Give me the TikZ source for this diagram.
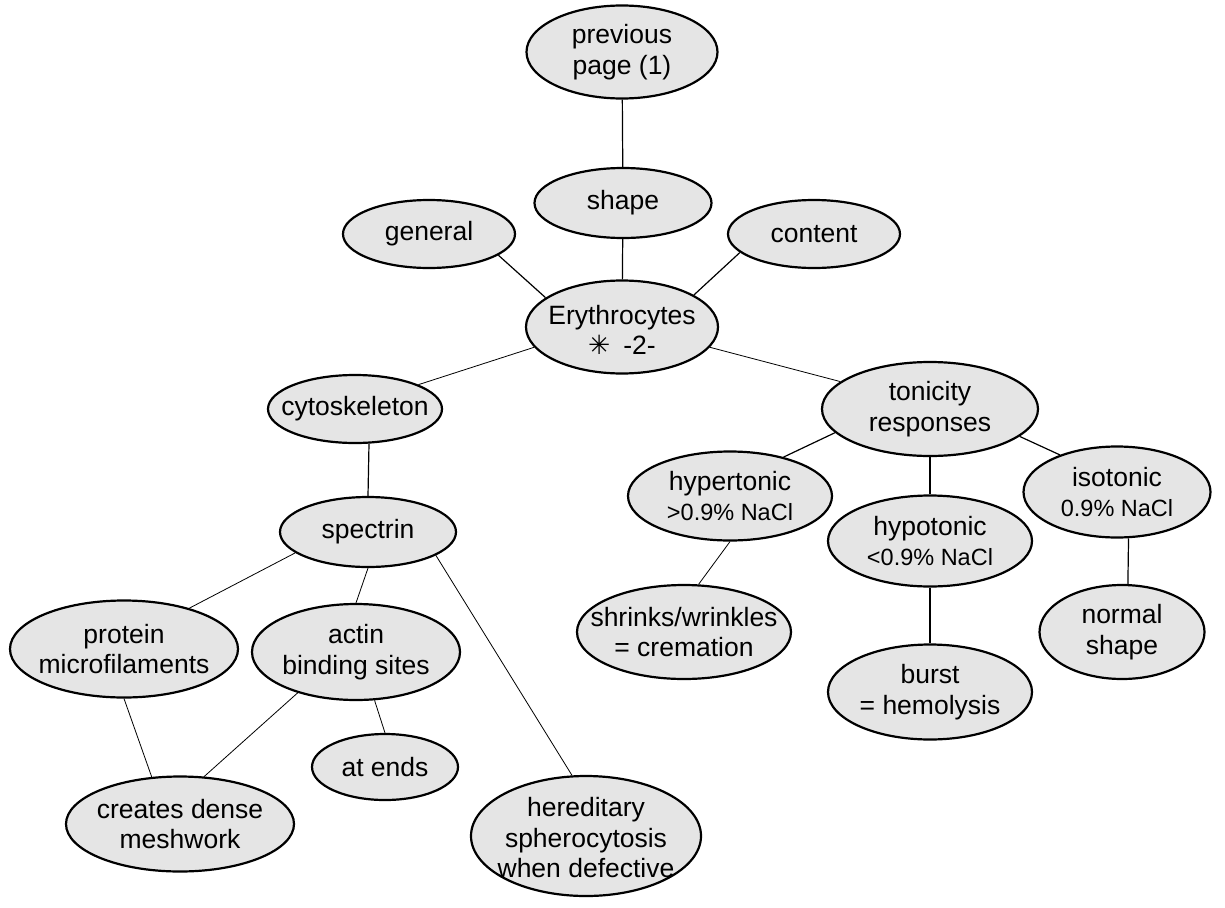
\documentclass[tikz,border=0pt]{standalone}
\usepackage{fontspec}
\usetikzlibrary{shapes.geometric}
\setmainfont{Liberation Sans}
\newfontfamily\symfont{DejaVu Sans}
\begin{document}
\begin{tikzpicture}[x=1pt,y=-1pt,
  ell/.style={ellipse, draw=black, line width=2.2pt, fill=black!10, inner sep=0pt},
  txt/.style={align=center, inner sep=0pt, font=\fontsize{26.5}{30.5}\selectfont},
  e1/.style={line width=1.2pt},
  e2/.style={line width=0.8pt}]
\useasboundingbox (0,0) rectangle (1225,907);
\newcommand{\sm}{\fontsize{23.5}{29}\selectfont}
% ellipses
\node[ell, minimum width=191pt, minimum height=93pt] (prev) at (622,52) {};
\node[ell, minimum width=177pt, minimum height=70pt] (shape) at (623,203) {};
\node[ell, minimum width=172pt, minimum height=68pt] (general) at (429,234) {};
\node[ell, minimum width=172pt, minimum height=68pt] (content) at (814,234) {};
\node[ell, minimum width=192pt, minimum height=93pt] (ery) at (622,327) {};
\node[ell, minimum width=174pt, minimum height=68pt] (cyto) at (355,409) {};
\node[ell, minimum width=216pt, minimum height=94pt] (tonicity) at (930,409) {};
\node[ell, minimum width=204pt, minimum height=89pt] (hypertonic) at (730,496) {};
\node[ell, minimum width=187pt, minimum height=91pt] (isotonic) at (1117,492) {};
\node[ell, minimum width=204pt, minimum height=91pt] (hypotonic) at (930,541) {};
\node[ell, minimum width=176pt, minimum height=70pt] (spectrin) at (368,532) {};
\node[ell, minimum width=228pt, minimum height=97pt] (protein) at (124,649) {};
\node[ell, minimum width=208pt, minimum height=96pt] (actin) at (356,652) {};
\node[ell, minimum width=214pt, minimum height=94pt] (shrinks) at (684,632) {};
\node[ell, minimum width=165pt, minimum height=94pt] (normal) at (1122,632) {};
\node[ell, minimum width=204pt, minimum height=95pt] (burst) at (930,692) {};
\node[ell, minimum width=146pt, minimum height=66pt] (atends) at (385,767) {};
\node[ell, minimum width=228pt, minimum height=95pt] (creates) at (180,824) {};
\node[ell, minimum width=230pt, minimum height=120pt] (hereditary) at (586,836) {};
% texts
\node[txt] (t-prev) at (prev) {previous\\page (1)};
\node[txt] (t-shape) at (shape) {shape};
\node[txt] (t-general) at (general) {general};
\node[txt] (t-content) at (content) {content};
\node[txt] (t-ery) at ([yshift=-3pt]ery.center) {Erythrocytes\\{\symfont ✳}\hspace{13pt}-2-};
\node[txt] (t-cyto) at (cyto) {cytoskeleton};
\node[txt] (t-tonicity) at (tonicity) {tonicity\\responses};
\node[txt] (t-hypertonic) at (hypertonic) {hypertonic\\{\sm >0.9\% NaCl}};
\node[txt] (t-isotonic) at (isotonic) {isotonic\\{\sm 0.9\% NaCl}};
\node[txt] (t-hypotonic) at (hypotonic) {hypotonic\\{\sm <0.9\% NaCl}};
\node[txt] (t-spectrin) at (spectrin) {spectrin};
\node[txt] (t-protein) at (protein) {protein\\microfilaments};
\node[txt] (t-actin) at (actin) {actin\\binding sites};
\node[txt] (t-shrinks) at (shrinks) {shrinks/wrinkles\\= cremation};
\node[txt] (t-normal) at (normal) {normal\\shape};
\node[txt] (t-burst) at (burst) {burst\\= hemolysis};
\node[txt] (t-atends) at (atends) {at ends};
\node[txt] (t-creates) at (creates) {creates dense\\meshwork};
\node[txt] (t-hereditary) at ([yshift=-2pt]hereditary.center) {hereditary\\spherocytosis\\when defective};
% connectors
\draw[e1] (prev) -- (shape);
\draw[e1] (shape) -- (ery);
\draw[e1] (general.343) -- (ery.159);
\draw[e1] (content.194) -- (ery.24);
\draw[e2] (ery.193) -- (cyto.21);
\draw[e2] (ery.347) -- (tonicity.163);
\draw[e1] (cyto.292) -- (spectrin.north);
\draw[e2] (spectrin.196) -- (protein.32);
\draw[e2] (spectrin.south) -- (actin.north);
\draw[e2] (spectrin.341) -- (hereditary.103);
\draw[e2] (protein.south) -- (creates.121);
\draw[e2] (actin.215) -- (creates.63);
\draw[e2] (actin.291) -- (atends.north);
\draw[e1] (tonicity.194) -- (hypertonic.36);
\draw[e1] (tonicity.south) -- (hypotonic.north);
\draw[e1] (tonicity.343) -- (isotonic.147);
\draw[e2] (hypertonic.south) -- (shrinks.73);
\draw[e1] (hypotonic.south) -- (burst.north);
\draw[e1] (isotonic.284) -- (normal.83);
\end{tikzpicture}
\end{document}
